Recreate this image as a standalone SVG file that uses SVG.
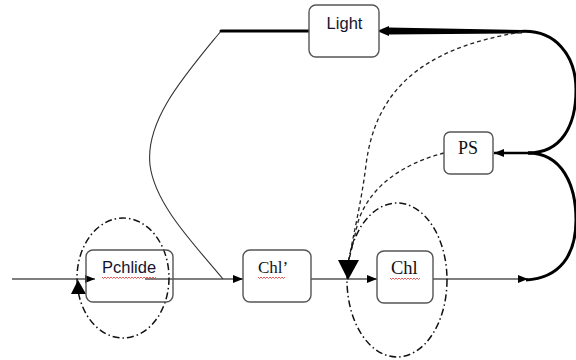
<svg xmlns="http://www.w3.org/2000/svg" width="576" height="360" viewBox="0 0 576 360">
  <style>
    .box { fill: #ffffff; stroke: #555555; stroke-width: 1.4; }
    .sans { font-family: "Liberation Sans", Arial, sans-serif; fill: #14142e; }
    .serif { font-family: "Liberation Serif", "Times New Roman", serif; fill: #111111; }
    .thin { fill: none; stroke: #000000; stroke-width: 1.2; }
    .thick { fill: none; stroke: #000000; stroke-width: 3; }
    .dash { fill: none; stroke: #222222; stroke-width: 1.3; stroke-dasharray: 4 3; }
    .dashdot { fill: none; stroke: #111111; stroke-width: 1.5; stroke-dasharray: 7 3 1.5 3; }
    .squiggle { fill: none; stroke: #e03030; stroke-width: 0.8; }
  </style>
  <defs>
    <marker id="arrow" viewBox="0 0 10 8" refX="10" refY="4" markerWidth="10" markerHeight="8" markerUnits="userSpaceOnUse" orient="auto">
      <path d="M0,0 L10,4 L0,8 Z" fill="#000000"/>
    </marker>
    <marker id="arrowBig" viewBox="0 0 12 10" refX="12" refY="5" markerWidth="12" markerHeight="10" markerUnits="userSpaceOnUse" orient="auto">
      <path d="M0,0 L12,5 L0,10 Z" fill="#000000"/>
    </marker>
  </defs>

  <g id="connectors">
    <!-- main horizontal pathway -->
    <path class="thin" d="M12,279 L95,279" marker-end="url(#arrow)"/>
    <path class="thin" d="M145,279 L243,279" marker-end="url(#arrow)"/>
    <path class="thin" d="M311,279 L377,279" marker-end="url(#arrow)"/>
    <path class="thin" d="M433,279 L528,279" marker-end="url(#arrow)"/>
    <!-- Light to pathway (thin curve) -->
    <path fill="none" stroke="#333333" stroke-width="1.1" d="M221,31 C185,75 145,120 150,165 C155,205 195,245 223,279"/>
    <path fill="none" stroke="#000000" stroke-width="3" stroke-linecap="round" d="M309,31 L221,31"/>
    <!-- thick arrow into Light -->
    <path fill="#000000" d="M388,27.5 L522,30 L522,33.5 L388,34.5 Z"/>
    <path fill="#000000" d="M377,31 L389,26 L389,36 Z"/>
    <!-- feedback loops on right -->
    <path class="thick" d="M520,31.5 C555,29 576,55 576,90 C576,125 562,153 528,153"/>
    <path class="thick" d="M528,153 C562,153 576,185 576,220 C576,255 560,278 526,280"/>
    <path fill="none" stroke="#000000" stroke-width="2.5" d="M532,153 L494,153" marker-end="url(#arrow)"/>
    <!-- dashed influences -->
    <path class="dash" d="M522,32 C420,48 375,92 366,165 C361,205 353,235 349,260"/>
    <path class="dash" d="M444,153 C405,163 370,185 358,222 L349,260"/>
    <!-- dash-dot cycles -->
    <ellipse class="dashdot" cx="123" cy="278" rx="46" ry="60"/>
    <polygon points="71,294 86,294 78,280" fill="#000000"/>
    <ellipse class="dashdot" cx="397" cy="280" rx="50" ry="77"/>
    <polygon points="338,260 359,260 348,280" fill="#000000"/>
  </g>

  <g id="node-light">
    <rect class="box" x="309" y="5" width="70" height="52" rx="7"/>
    <text class="sans" x="344.5" y="29" font-size="16.5" text-anchor="middle">Light</text>
  </g>

  <g id="node-ps">
    <rect class="box" x="444" y="132" width="49" height="42" rx="6"/>
    <text class="serif" x="468" y="154" font-size="18" text-anchor="middle">PS</text>
  </g>

  <g id="node-pchlide">
    <rect class="box" x="86" y="250" width="87" height="52" rx="7" fill-opacity="0"/>
    <text class="sans" x="102" y="273" font-size="16.5">Pchlide</text>
    <path class="squiggle" d="M102,277 l1.5,1.5 l1.5,-1.5 l1.5,1.5 l1.5,-1.5 l1.5,1.5 l1.5,-1.5 l1.5,1.5 l1.5,-1.5 l1.5,1.5 l1.5,-1.5 l1.5,1.5 l1.5,-1.5 l1.5,1.5 l1.5,-1.5 l1.5,1.5 l1.5,-1.5 l1.5,1.5 l1.5,-1.5 l1.5,1.5 l1.5,-1.5 l1.5,1.5 l1.5,-1.5 l1.5,1.5 l1.5,-1.5 l1.5,1.5 l1.5,-1.5 l1.5,1.5 l1.5,-1.5 l1.5,1.5 l1.5,-1.5 l1.5,1.5 l1.5,-1.5 l1.5,1.5 l1.5,-1.5 l1.5,1.5 l1.5,-1.5"/>
  </g>

  <g id="node-chl-prime">
    <rect class="box" x="243" y="250" width="68" height="52" rx="7"/>
    <text class="serif" x="258" y="273" font-size="17">Chl’</text>
    <path class="squiggle" d="M258,277 l1.5,1.5 l1.5,-1.5 l1.5,1.5 l1.5,-1.5 l1.5,1.5 l1.5,-1.5 l1.5,1.5 l1.5,-1.5 l1.5,1.5 l1.5,-1.5 l1.5,1.5 l1.5,-1.5 l1.5,1.5 l1.5,-1.5 l1.5,1.5 l1.5,-1.5 l1.5,1.5 l1.5,-1.5"/>
  </g>

  <g id="node-chl">
    <rect class="box" x="377" y="251" width="56" height="52" rx="7"/>
    <text class="serif" x="391" y="274" font-size="18.5">Chl</text>
    <path class="squiggle" d="M390,278 l1.5,1.5 l1.5,-1.5 l1.5,1.5 l1.5,-1.5 l1.5,1.5 l1.5,-1.5 l1.5,1.5 l1.5,-1.5 l1.5,1.5 l1.5,-1.5 l1.5,1.5 l1.5,-1.5 l1.5,1.5 l1.5,-1.5 l1.5,1.5 l1.5,-1.5 l1.5,1.5 l1.5,-1.5 l1.5,1.5 l1.5,-1.5"/>
  </g>
</svg>
